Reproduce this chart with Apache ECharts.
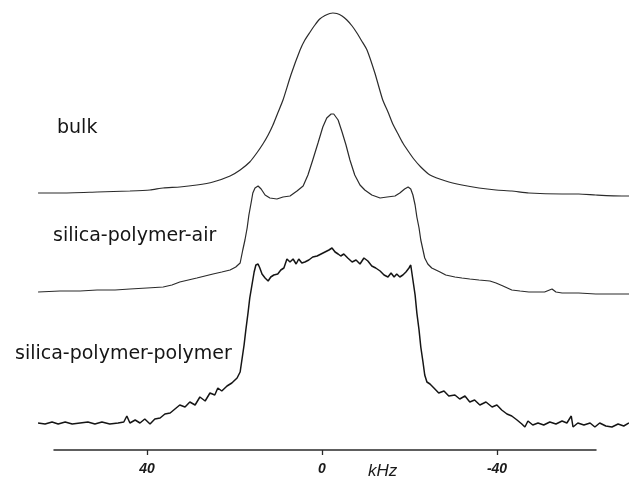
<!DOCTYPE html>
<html>
<head>
<meta charset="utf-8">
<script src="https://cdn.jsdelivr.net/npm/echarts@6/dist/echarts.min.js"></script>
<style>
html,body{margin:0;padding:0;background:#fff;}
#chart{width:629px;height:480px;}
</style>
</head>
<body>
<div id="chart"></div>
<script>
// ---- data (x in kHz, y = relative intensity) ----
var seriesNames = ['bulk', 'silica-polymer-air', 'silica-polymer-polymer'];
var tickValues = [40, 0, -40];
var axisTitle = 'kHz';

var bulkData = [
  [64.9,2],[59.9,2],[51.4,3],[43.9,4],[39.3,5],[36.3,7],[32.5,8],[28.6,10],[24.9,13],[21.0,19],
  [18.7,25],[16.5,33],[14.9,42],[13.5,51],[12.3,60],[11.2,70],[10.1,82],[8.9,95],[7.1,120],[5.0,145],
  [3.9,155],[2.7,163],[1.6,170],[0.5,176],[-0.7,179.5],[-1.8,181.5],[-2.5,182],[-3.4,181.5],[-4.6,179],
  [-5.7,175],[-6.9,169],[-8.0,162],[-9.1,154],[-10.3,145],[-12.1,122],[-13.9,95],[-15.1,83],[-16.2,71],
  [-17.4,61],[-18.5,52],[-19.7,44],[-21.0,36],[-22.6,28],[-24.7,20],[-28.3,14],[-32.0,10],[-35.9,7],
  [-39.8,5],[-43.4,4],[-47.3,2],[-54.9,1],[-58.7,1],[-62.6,0],[-68.6,-1],[-70.2,-1]
];

var airData = [
  [64.9,1],[59.9,2],[55.3,2],[51.4,3],[47.3,3],[43.9,4],[40.0,5],[36.3,6],[34.3,8],[32.5,11],
  [28.6,15],[24.9,19],[22.9,21],[21.0,23],[19.7,26],[18.7,30],[18.1,43],[17.6,53],[17.1,65],[16.7,78],
  [16.2,90],[15.8,100],[15.3,105],[14.6,107],[13.9,104],[13.0,98],[11.9,95],[10.3,94],[8.9,96],[7.3,97],
  [5.7,102],[4.3,107],[3.2,118],[2.1,133],[0.9,150],[-0.2,166],[-1.1,175],[-2.1,179],[-2.7,179],
  [-3.7,173],[-4.6,161],[-5.5,148],[-6.4,133],[-7.5,118],[-8.7,108],[-9.8,103],[-11.4,98],[-13.3,95],
  [-14.9,96],[-16.7,97],[-17.8,100],[-18.9,104],[-19.7,106],[-20.3,104],[-20.8,98],[-21.3,88],
  [-21.7,76],[-22.2,65],[-22.6,53],[-23.1,43],[-23.5,35],[-24.2,29],[-25.1,25],[-27.0,21],[-28.3,18],
  [-30.4,16],[-32.0,15],[-33.8,14],[-35.9,13],[-38.4,12],[-39.8,10],[-41.4,7],[-43.4,3],[-45.3,2],
  [-47.3,1],[-50.9,1],[-52.6,4],[-53.5,1],[-54.9,0],[-58.7,0],[-62.6,-1],[-66.3,-1],[-70.2,-1]
];

var polyData = [
  [64.9,1],[63.3,0],[61.7,2],[60.3,0],[58.7,2],[57.1,0],[55.3,1],[53.5,2],[51.9,0],[50.3,2],
  [48.5,0],[46.6,1],[45.3,2],[44.6,8],[43.9,1],[42.7,4],[41.6,1],[40.5,5],[39.3,0],[38.2,5],
  [37.0,6],[35.9,10],[34.7,11],[33.6,15],[32.5,19],[31.3,17],[30.2,22],[29.0,19],[27.9,27],[26.7,23],
  [25.6,31],[24.5,29],[23.8,36],[22.9,33],[21.7,38],[20.6,41],[19.4,46],[18.7,52],[18.3,64],[17.8,79],
  [17.4,94],[16.9,111],[16.5,126],[16.0,139],[15.5,152],[15.1,159],[14.6,160],[14.2,156],[13.7,150],
  [13.0,146],[12.3,143],[11.7,147],[11.0,149],[10.1,150],[9.4,154],[8.7,156],[8.0,165],[7.3,162],
  [6.6,165],[5.9,160],[5.3,165],[4.6,161],[3.9,162],[3.0,164],[2.1,167],[1.1,168],[0.2,170],
  [-0.7,172],[-1.6,174],[-2.3,176],[-3.0,172],[-3.7,170],[-4.3,168],[-5.0,170],[-5.9,166],[-6.9,162],
  [-7.8,164],[-8.7,160],[-9.6,166],[-10.5,163],[-11.4,158],[-12.3,156],[-13.3,153],[-14.2,149],
  [-15.1,147],[-15.8,151],[-16.5,147],[-17.1,150],[-17.8,147],[-18.5,149],[-19.2,152],[-19.9,156],
  [-20.3,159],[-20.8,144],[-21.3,129],[-21.7,111],[-22.2,94],[-22.6,77],[-23.1,62],[-23.5,49],
  [-24.0,42],[-24.7,40],[-25.6,36],[-26.7,31],[-27.9,33],[-29.0,28],[-30.4,29],[-31.5,25],[-32.7,28],
  [-33.8,22],[-34.9,24],[-36.1,19],[-37.5,22],[-38.9,17],[-40.0,19],[-41.1,14],[-42.3,10],[-43.4,8],
  [-44.6,4],[-45.7,0],[-46.4,-3],[-47.1,3],[-48.2,-1],[-49.4,1],[-50.7,-1],[-52.1,2],[-53.5,0],
  [-54.9,3],[-56.0,1],[-57.0,8],[-57.4,-3],[-58.5,1],[-59.9,-1],[-61.3,1],[-62.4,-3],[-63.5,1],
  [-64.9,-2],[-66.3,-3],[-67.7,0],[-69.0,-2],[-70.2,1]
];

// ---- layout constants ----
var offsets = [285, 187, 56];   // vertical stacking offsets (y-axis units)

function shift(arr, off) {
  return arr.map(function (p) { return [p[0], p[1] + off]; });
}

var chart = echarts.init(document.getElementById('chart'), null, {renderer: 'canvas'});
var textFont = '"DejaVu Sans", Verdana, sans-serif';

var option = {
  animation: false,
  backgroundColor: '#ffffff',
  grid: [
    {left: 0, right: 0, top: 0, bottom: 0},
    {left: 54, right: 33, top: 400, bottom: 30}
  ],
  xAxis: [
    {gridIndex: 0, type: 'value', inverse: true, min: -70.2, max: 73.6, show: false},
    {
      gridIndex: 1, type: 'value', inverse: true, min: -62.63, max: 61.26,
      splitLine: {show: false},
      axisLine: {show: true, onZero: false, lineStyle: {color: '#2a2a2a', width: 1.5}},
      axisTick: {show: true, customValues: tickValues, length: 5, lineStyle: {color: '#2a2a2a', width: 1.3}},
      axisLabel: {
        show: true, customValues: tickValues, margin: 12,
        fontFamily: '"Liberation Sans", Arial, sans-serif', fontStyle: 'italic', fontWeight: 'bold',
        fontSize: 14, color: '#1a1a1a'
      }
    }
  ],
  yAxis: [
    {gridIndex: 0, type: 'value', min: 0, max: 480, show: false},
    {gridIndex: 1, type: 'value', min: 0, max: 1, show: false}
  ],
  series: [
    {name: seriesNames[0], type: 'line', xAxisIndex: 0, yAxisIndex: 0, showSymbol: false, symbol: 'none',
     smooth: 0.2,
     data: shift(bulkData, offsets[0]), lineStyle: {color: '#2b2b2b', width: 1.2}},
    {name: seriesNames[1], type: 'line', xAxisIndex: 0, yAxisIndex: 0, showSymbol: false, symbol: 'none',
     data: shift(airData, offsets[1]), lineStyle: {color: '#2b2b2b', width: 1.2}},
    {name: seriesNames[2], type: 'line', xAxisIndex: 0, yAxisIndex: 0, showSymbol: false, symbol: 'none',
     data: shift(polyData, offsets[2]), lineStyle: {color: '#151515', width: 1.5}},
    {type: 'line', xAxisIndex: 1, yAxisIndex: 1, data: [], showSymbol: false}
  ],
  graphic: [
    {type: 'text', left: 57, top: 119, style: {text: seriesNames[0], font: '19px ' + textFont, fill: '#151515'}},
    {type: 'text', left: 53, top: 227, style: {text: seriesNames[1], font: '19px ' + textFont, fill: '#151515'}},
    {type: 'text', left: 15, top: 345, style: {text: seriesNames[2], font: '19px ' + textFont, fill: '#151515'}},
    {type: 'text', left: 368, top: 463, style: {text: axisTitle, font: 'italic 17px "Liberation Sans", Arial, sans-serif', fill: '#1a1a1a'}}
  ]
};
chart.setOption(option);
</script>
</body>
</html>
